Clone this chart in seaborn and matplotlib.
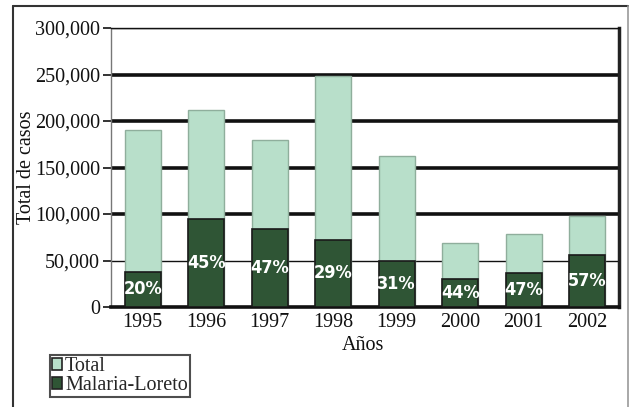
import matplotlib
matplotlib.use("Agg")
import matplotlib.pyplot as plt
import seaborn as sns
import pandas as pd
import numpy as np
from matplotlib.patches import Rectangle
from matplotlib.lines import Line2D
from matplotlib.ticker import FuncFormatter, FixedLocator

years = ["1995", "1996", "1997", "1998", "1999", "2000", "2001", "2002"]
total = [190000, 212000, 180000, 248000, 162000, 68500, 78000, 98000]
malaria = [38000, 94500, 83500, 72500, 49500, 30000, 37000, 56000]
pct_labels = ["20%", "45%", "47%", "29%", "31%", "44%", "47%", "57%"]

light = "#b8dfca"
dark = "#2f5535"

sns.set_theme(style="white")
plt.rcParams["font.family"] = ["Liberation Serif", "DejaVu Serif"]

df = pd.DataFrame({"Año": years, "Total": total, "Malaria": malaria})

fig = plt.figure(figsize=(6.29, 4.07), dpi=100)
ax = fig.add_axes([111/629, 1-307/407, 508/629, 279/407])

sns.barplot(data=df, x="Año", y="Total", color=light, width=0.57, ax=ax,
            edgecolor="#8fae9c", linewidth=1.0, saturation=1, zorder=2, label="Total")
sns.barplot(data=df, x="Año", y="Malaria", color=dark, width=0.57, ax=ax,
            edgecolor="#1a1a1a", linewidth=1.2, saturation=1, zorder=3, label="Malaria-Loreto")

for i, (m, lab) in enumerate(zip(malaria, pct_labels)):
    ax.text(i, m / 2, lab, ha="center", va="center", color="white",
            fontsize=13, fontweight="bold", family="DejaVu Sans",
            fontstretch="condensed", zorder=5)

ax.set_ylim(0, 300000)
ax.set_xlim(-0.5, len(years) - 0.5)
ax.yaxis.set_major_locator(FixedLocator([0, 50000, 100000, 150000, 200000, 250000, 300000]))
ax.yaxis.set_major_formatter(FuncFormatter(lambda v, p: f"{int(v):,}"))

ax.grid(axis="y", color="#111111", zorder=0)
ax.set_axisbelow(True)
for v, gl in zip(ax.get_yticks(), ax.get_ygridlines()):
    gl.set_linewidth(2.6 if v in (100000, 150000, 200000, 250000) else 1.0)

ax.set_xticks(np.arange(len(years)) + 0.5, minor=True)
ax.tick_params(axis="x", which="major", length=0, labelsize=14.5, pad=4, colors="#111111")
ax.tick_params(axis="x", which="minor", length=4, width=2, color="#111111", direction="out")
ax.tick_params(axis="y", which="major", length=6, width=1.2, color="#111111",
               labelsize=14.5, pad=2, direction="out", left=True, labelcolor="#111111")

ax.spines["left"].set_color("#777777")
ax.spines["left"].set_linewidth(1.0)
ax.spines["top"].set_color("#111111")
ax.spines["top"].set_linewidth(1.0)
ax.spines["right"].set_color("#222222")
ax.spines["right"].set_linewidth(2.5)
ax.spines["bottom"].set_color("#111111")
ax.spines["bottom"].set_linewidth(2.6)

ax.set_ylabel("Total de casos", fontsize=14.5, color="#111111")
ax.yaxis.set_label_coords(-0.148, 0.5)
ax.set_xlabel("Años", fontsize=14.5, color="#111111")
ax.xaxis.set_label_coords(0.496, -0.105)

leg_handles = [Rectangle((0, 0), 1, 1, facecolor=light, edgecolor="#222222", lw=1.2),
               Rectangle((0, 0), 1, 1, facecolor=dark, edgecolor="#222222", lw=1.2)]
leg = fig.legend(leg_handles, ["Total", "Malaria-Loreto"], loc="upper left",
                 bbox_to_anchor=(50/629, 1-355/407), fontsize=14.5, frameon=True,
                 fancybox=False, handlelength=0.5, handleheight=0.5, handletextpad=0.15,
                 labelspacing=0.0, borderpad=0.1, borderaxespad=0)
leg.get_frame().set_edgecolor("#222222")
leg.get_frame().set_linewidth(1.5)
if ax.get_legend() is not None:
    ax.get_legend().remove()

x0, x1, ytop = 13/629, 628/629, 1 - 6/407
fig.lines.append(Line2D([x0, x1], [ytop, ytop], transform=fig.transFigure, color="#333333", lw=1.5))
fig.lines.append(Line2D([x0, x0], [0, ytop], transform=fig.transFigure, color="#333333", lw=1.5))
fig.lines.append(Line2D([x1, x1], [0, ytop], transform=fig.transFigure, color="#999999", lw=1.2))

fig.savefig("out.png", dpi=100)
